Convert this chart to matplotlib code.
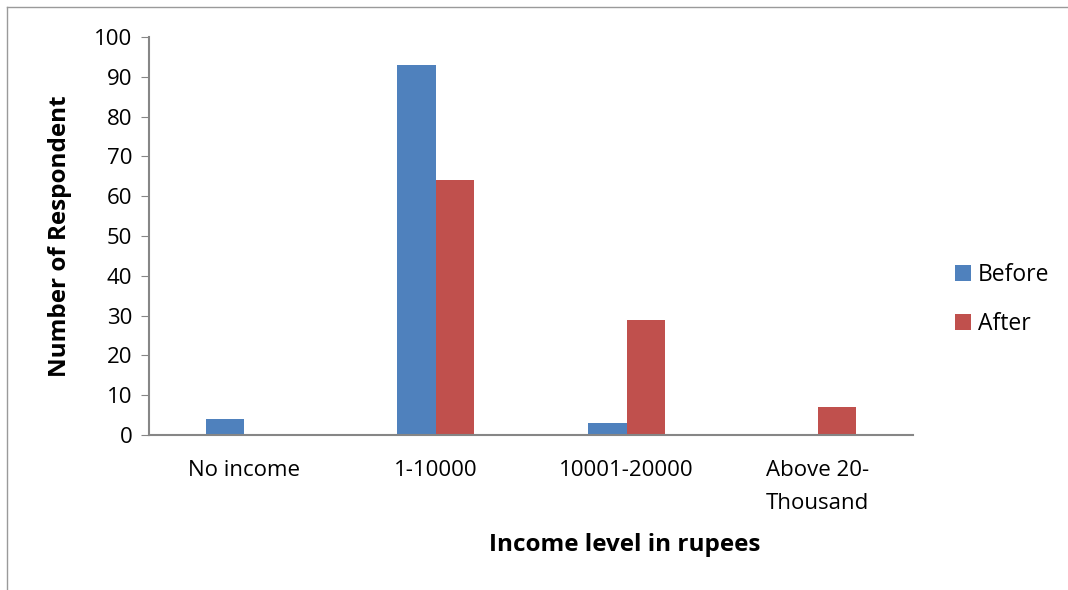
import matplotlib.pyplot as plt
import numpy as np
from matplotlib.lines import Line2D

# Data
categories = ["No income", "1-10000", "10001-20000", "Above 20-\nThousand"]
before = [4, 93, 3, 0]
after = [0, 64, 29, 7]

BLUE = "#4F81BD"
RED = "#C0504D"
GRAY = "#868686"

plt.rcParams["font.family"] = ["Open Sans", "DejaVu Sans"]

fig = plt.figure(figsize=(10.68, 5.90), dpi=100)
ax = fig.add_axes([0.1395, 0.2627, 0.7154, 0.6746])

x = np.arange(len(categories))
width = 0.2
ax.bar(x - width / 2, before, width, color=BLUE, label="Before")
ax.bar(x + width / 2, after, width, color=RED, label="After")

ax.set_xlim(-0.5, len(categories) - 0.5)
ax.set_ylim(0, 100)
ax.set_yticks(np.arange(0, 101, 10))
ax.set_xticks(x)
ax.set_xticklabels(categories, fontsize=16, linespacing=1.75)
ax.tick_params(axis="x", length=0, pad=18)
ax.tick_params(axis="y", length=6, color=GRAY, labelsize=16, pad=6)

for side in ["top", "right"]:
    ax.spines[side].set_visible(False)
for side in ["left", "bottom"]:
    ax.spines[side].set_color(GRAY)
    ax.spines[side].set_linewidth(1.5)

fig.text(60 / 1068, 1 - 236 / 590, "Number of Respondent", fontsize=17.5,
         fontweight="bold", ha="center", va="center", rotation=90)
fig.text(625 / 1068, 1 - 545 / 590, "Income level in rupees", fontsize=17.5,
         fontweight="bold", ha="center", va="center")

ax.legend(loc="center left", bbox_to_anchor=(1.028, 0.34), frameon=False,
          fontsize=16.5, handlelength=0.7, handleheight=0.7, handletextpad=0.3,
          labelspacing=1.1)

# outer chart border (left and top visible)
fig.add_artist(Line2D([7 / 1068, 7 / 1068], [0, 1 - 7 / 590], color="#9a9a9a", lw=1))
fig.add_artist(Line2D([7 / 1068, 1], [1 - 7 / 590, 1 - 7 / 590], color="#9a9a9a", lw=1))

fig.savefig("out.png", dpi=100)
